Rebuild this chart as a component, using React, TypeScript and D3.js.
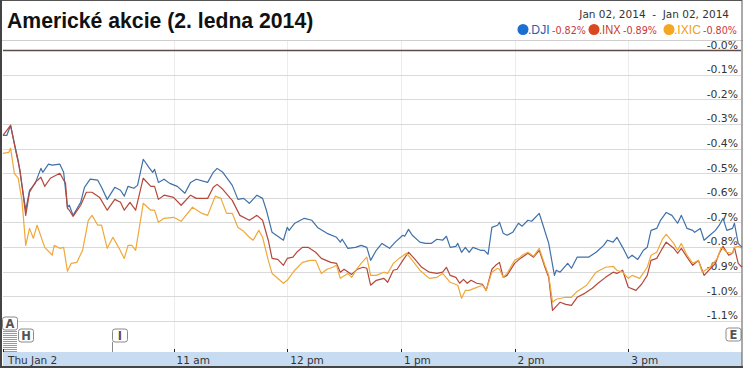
import React from 'react';
import * as d3 from 'd3';

// minutes after 9:30 open, % change vs previous close
const dji: [number, number][] = [
  [0, -0.346], [2, -0.346], [4, -0.305], [6, -0.378], [8, -0.447], [12, -0.65], [14, -0.569], [17, -0.541],
  [20, -0.48], [21, -0.496], [24, -0.463], [26, -0.467], [30, -0.463], [32, -0.496], [34, -0.638], [35, -0.63],
  [37, -0.671], [41, -0.618], [43, -0.557], [46, -0.524], [50, -0.528], [52, -0.557], [55, -0.606], [59, -0.557],
  [62, -0.569], [64, -0.593], [66, -0.553], [69, -0.561], [71, -0.549], [74, -0.443], [77, -0.476], [79, -0.496],
  [80, -0.484], [82, -0.537], [85, -0.524], [88, -0.541], [92, -0.553], [96, -0.581], [99, -0.537], [102, -0.524],
  [108, -0.537], [111, -0.496], [113, -0.48], [116, -0.496], [119, -0.528], [121, -0.549], [124, -0.606], [127, -0.602],
  [130, -0.622], [134, -0.589], [137, -0.602], [139, -0.65], [142, -0.74], [145, -0.756], [148, -0.772], [150, -0.72],
  [151, -0.732], [154, -0.703], [159, -0.683], [163, -0.691], [166, -0.72], [171, -0.744], [176, -0.76], [178, -0.78],
  [179, -0.768], [182, -0.805], [186, -0.801], [189, -0.793], [192, -0.801], [194, -0.854], [197, -0.813], [200, -0.785],
  [204, -0.805], [207, -0.78], [211, -0.752], [212, -0.756], [214, -0.728], [216, -0.752], [220, -0.78], [223, -0.785],
  [226, -0.785], [229, -0.768], [232, -0.772], [234, -0.756], [236, -0.801], [239, -0.797], [240, -0.785], [242, -0.821],
  [244, -0.801], [246, -0.821], [248, -0.801], [252, -0.813], [254, -0.813], [256, -0.829], [258, -0.72], [261, -0.711],
  [262, -0.699], [264, -0.744], [266, -0.752], [269, -0.74], [272, -0.703], [274, -0.715], [277, -0.691], [279, -0.695],
  [283, -0.663], [285, -0.711], [288, -0.785], [291, -0.915], [292, -0.894], [294, -0.902], [298, -0.866], [300, -0.886],
  [303, -0.841], [309, -0.841], [313, -0.821], [317, -0.793], [319, -0.772], [322, -0.78], [324, -0.76], [327, -0.801],
  [330, -0.846], [332, -0.833], [335, -0.85], [338, -0.813], [340, -0.801], [342, -0.732], [345, -0.724], [347, -0.691],
  [350, -0.659], [353, -0.671], [356, -0.703], [358, -0.671], [361, -0.724], [364, -0.732], [365, -0.74], [368, -0.724],
  [370, -0.772], [373, -0.752], [376, -0.732], [378, -0.711], [380, -0.683], [382, -0.732], [385, -0.724], [386, -0.703],
  [388, -0.785], [390, -0.801],
];

const inx: [number, number][] = [
  [0, -0.346], [4, -0.305], [7, -0.419], [9, -0.488], [12, -0.671], [14, -0.577], [17, -0.537], [20, -0.516],
  [22, -0.553], [25, -0.52], [30, -0.5], [33, -0.541], [34, -0.642], [35, -0.65], [37, -0.675], [41, -0.63],
  [44, -0.577], [47, -0.577], [51, -0.598], [55, -0.65], [59, -0.606], [62, -0.618], [64, -0.65], [67, -0.618],
  [70, -0.65], [74, -0.52], [78, -0.553], [80, -0.553], [82, -0.606], [85, -0.589], [90, -0.598], [94, -0.63],
  [99, -0.589], [102, -0.602], [108, -0.602], [111, -0.557], [113, -0.545], [116, -0.565], [120, -0.602], [121, -0.61],
  [125, -0.671], [130, -0.691], [134, -0.671], [137, -0.691], [140, -0.772], [142, -0.846], [145, -0.85], [148, -0.874],
  [150, -0.846], [153, -0.841], [155, -0.821], [158, -0.801], [161, -0.801], [165, -0.821], [168, -0.846], [173, -0.862],
  [176, -0.866], [178, -0.902], [180, -0.89], [184, -0.911], [187, -0.89], [190, -0.882], [192, -0.886], [194, -0.955],
  [197, -0.935], [201, -0.927], [203, -0.943], [206, -0.894], [208, -0.89], [211, -0.854], [214, -0.821], [217, -0.846],
  [221, -0.882], [225, -0.902], [229, -0.907], [232, -0.902], [234, -0.882], [236, -0.915], [239, -0.923], [241, -0.947],
  [243, -0.931], [245, -0.947], [247, -0.935], [250, -0.947], [253, -0.951], [255, -0.976], [258, -0.89], [260, -0.874],
  [262, -0.862], [264, -0.923], [266, -0.915], [270, -0.866], [273, -0.846], [274, -0.841], [277, -0.825], [280, -0.841],
  [283, -0.813], [286, -0.882], [288, -0.923], [290, -1.057], [291, -1.049], [294, -1.024], [297, -1.033], [300, -1.037],
  [303, -1.004], [307, -0.988], [311, -0.967], [314, -0.947], [318, -0.923], [322, -0.902], [324, -0.907], [327, -0.894],
  [330, -0.963], [334, -0.976], [337, -0.951], [340, -0.915], [342, -0.854], [345, -0.846], [348, -0.805], [350, -0.78],
  [354, -0.805], [356, -0.825], [358, -0.805], [361, -0.841], [364, -0.874], [367, -0.854], [370, -0.915], [373, -0.89],
  [376, -0.866], [378, -0.825], [380, -0.797], [383, -0.833], [385, -0.825], [386, -0.801], [388, -0.866], [390, -0.882],
];

const ixic: [number, number][] = [
  [0, -0.419], [3, -0.415], [4, -0.398], [6, -0.5], [8, -0.52], [10, -0.61], [12, -0.793], [14, -0.724],
  [16, -0.764], [18, -0.711], [22, -0.801], [26, -0.833], [27, -0.793], [30, -0.805], [32, -0.801], [34, -0.898],
  [36, -0.866], [39, -0.862], [42, -0.813], [45, -0.691], [47, -0.671], [50, -0.711], [52, -0.711], [55, -0.805],
  [58, -0.76], [61, -0.801], [64, -0.846], [66, -0.793], [68, -0.793], [70, -0.813], [74, -0.622], [78, -0.65],
  [80, -0.65], [82, -0.699], [85, -0.683], [90, -0.679], [94, -0.695], [100, -0.638], [105, -0.663], [108, -0.671],
  [112, -0.593], [115, -0.602], [118, -0.663], [121, -0.663], [124, -0.72], [127, -0.736], [130, -0.76], [132, -0.772],
  [135, -0.732], [137, -0.76], [140, -0.854], [142, -0.907], [148, -0.947], [150, -0.935], [154, -0.894], [158, -0.862],
  [162, -0.854], [165, -0.854], [168, -0.907], [171, -0.89], [174, -0.882], [176, -0.874], [178, -0.927], [182, -0.907],
  [184, -0.923], [187, -0.886], [189, -0.866], [192, -0.841], [194, -0.915], [197, -0.915], [201, -0.902], [203, -0.907],
  [206, -0.866], [209, -0.846], [213, -0.825], [216, -0.854], [220, -0.894], [225, -0.927], [229, -0.923], [232, -0.907],
  [236, -0.943], [240, -0.955], [242, -1.008], [244, -0.976], [246, -0.976], [249, -0.967], [253, -0.955], [255, -0.976],
  [258, -0.902], [261, -0.886], [262, -0.89], [264, -0.923], [266, -0.907], [270, -0.854], [273, -0.841], [274, -0.833],
  [277, -0.821], [280, -0.837], [283, -0.805], [286, -0.874], [288, -0.915], [290, -1.024], [292, -1.012], [297, -1.004],
  [300, -1.004], [303, -0.98], [308, -0.955], [313, -0.902], [318, -0.882], [322, -0.878], [324, -0.894], [327, -0.902],
  [330, -0.927], [332, -0.915], [336, -0.927], [340, -0.882], [342, -0.833], [345, -0.821], [348, -0.768], [350, -0.748],
  [354, -0.785], [356, -0.813], [358, -0.785], [361, -0.833], [364, -0.866], [367, -0.854], [369, -0.902], [373, -0.882],
  [377, -0.846], [379, -0.801], [382, -0.821], [385, -0.825], [386, -0.801], [388, -0.797], [390, -0.805],
];

const yTicks = [0, -0.1, -0.2, -0.3, -0.4, -0.5, -0.6, -0.7, -0.8, -0.9, -1.0, -1.1];
const xTicks = [90, 150, 210, 270, 330];
const xTickLabels = ['11 am', '12 pm', '1 pm', '2 pm', '3 pm'];

const legendItems = [
  { name: '.DJI', change: '-0.82%', dot: '#1b6fd1', text: '#2461b0', line: '#3f70a8' },
  { name: '.INX', change: '-0.89%', dot: '#d9481f', text: '#c9401c', line: '#b5473b' },
  { name: '.IXIC', change: '-0.80%', dot: '#f5a623', text: '#f0a020', line: '#f0a83a' },
];
const seriesData = [dji, inx, ixic];

const W = 743;
const H = 368;

export default function App() {
  const x = d3.scaleLinear().domain([0, 390]).range([3, 742]);
  const y = d3.scaleLinear().domain([-1.1, 0]).range([320.9, 50.3]);
  const line = d3.line<[number, number]>().x(d => x(d[0])).y(d => y(d[1]));

  const legendX = [523, 594, 669];
  const sans = '"DejaVu Sans", Verdana, sans-serif';
  const arial = '"Liberation Sans", Arial, sans-serif';

  const flag = (fx: number, fy: number, label: string, w = 15) => (
    <g key={label}>
      <rect x={fx + 0.5} y={fy + 0.5} width={w} height={13} rx={2.5} fill="#fff" stroke="#8a8a8a" />
      <text x={fx + w / 2 + 0.5} y={fy + 11.5} textAnchor="middle" fontFamily={sans} fontWeight="bold" fontSize={11.5} fill="#555">{label}</text>
    </g>
  );

  return (
    <svg width={W} height={H} style={{ position: 'absolute', left: 0, top: 0, background: '#fff' }}>
      {/* header */}
      <text x={7} y={27.5} fontFamily={arial} fontWeight="bold" fontSize={21.2} fill="#111">Americké akcie (2. ledna 2014)</text>
      <text x={729} y={17.5} textAnchor="end" fontFamily={sans} fontSize={10.5} fill="#333" style={{ whiteSpace: 'pre' }}>Jan 02, 2014  -  Jan 02, 2014</text>
      {legendItems.map((d, i) => (
        <g key={d.name}>
          <circle cx={legendX[i]} cy={29.5} r={5.5} fill={d.dot} />
          <text x={legendX[i] + 5} y={34} fontFamily={arial} fontSize={13.5} fill={d.text} textLength={d.name.length * 5.4} lengthAdjust="spacingAndGlyphs">{d.name}</text>
          <text x={legendX[i] + 29 + (i === 2 ? 5 : 0)} y={34} fontFamily={sans} fontSize={9.6} fill="#c8363a">{d.change}</text>
        </g>
      ))}
      <line x1={0} x2={W} y1={40.5} y2={40.5} stroke="#cfcfcf" />

      {/* vertical grid */}
      {xTicks.map(t => (
        <line key={t} x1={Math.round(x(t)) + 0.5} x2={Math.round(x(t)) + 0.5} y1={41} y2={352} stroke="#ececec" />
      ))}
      {/* horizontal grid */}
      {yTicks.map(t => (
        <line key={t} x1={3} x2={741} y1={Math.round(y(t)) + 0.5} y2={Math.round(y(t)) + 0.5}
          stroke={t === 0 ? '#5d4e4b' : '#d9d9d9'} strokeWidth={t === 0 ? 1.3 : 1} />
      ))}
      {yTicks.map(t => (
        <text key={'l' + t} x={738} y={y(t) - 1.8} textAnchor="end" fontFamily={sans} fontSize={10.8} fill="#333">
          {`-${Math.abs(t).toFixed(1)}%`}
        </text>
      ))}

      {/* series */}
      {seriesData.map((s, i) => (
        <path key={i} d={line(s) || ''} fill="none" stroke={legendItems[i].line} strokeWidth={1.2} strokeLinejoin="round" />
      ))}

      {/* flags */}
      {d3.range(331, 352, 2).map(sy => (
        <line key={sy} x1={3} x2={17} y1={sy + 0.5} y2={sy + 0.5} stroke="#9a9a9a" />
      ))}
      <line x1={112.5} x2={112.5} y1={342} y2={352} stroke="#8a8a8a" />
      {flag(2, 316.5, 'A')}
      {flag(18, 328.5, 'H')}
      {flag(112, 328.5, 'I')}
      {flag(725.5, 327.5, 'E')}

      {/* time axis band */}
      <rect x={3} y={352} width={739} height={14} fill="#c7dbf1" />
      {[0, ...xTicks].map(t => (
        <line key={'t' + t} x1={Math.round(x(t)) + 0.5} x2={Math.round(x(t)) + 0.5} y1={349} y2={352} stroke="#222" />
      ))}
      <text x={8} y={363.5} fontFamily={sans} fontSize={10.5} fill="#333">Thu Jan 2</text>
      {xTicks.map((t, i) => (
        <text key={'xl' + t} x={x(t) + 3} y={363.5} fontFamily={sans} fontSize={10.5} fill="#333">{xTickLabels[i]}</text>
      ))}

      {/* frame */}
      <rect x={1} y={0.5} width={741} height={366.5} fill="none" stroke="#555" strokeWidth={1} />
      <line x1={1} x2={1} y1={0} y2={H} stroke="#444" strokeWidth={2} />
      <line x1={0} x2={W} y1={367} y2={367} stroke="#444" strokeWidth={2} />
    </svg>
  );
}
